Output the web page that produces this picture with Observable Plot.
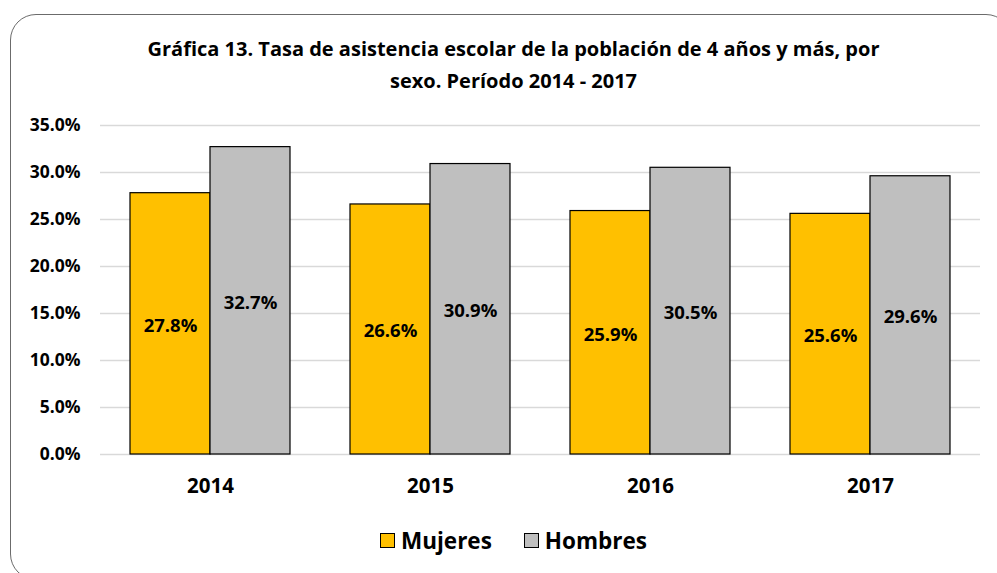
<!DOCTYPE html>
<html><head><meta charset="utf-8">
<script src="https://cdn.jsdelivr.net/npm/d3@7"></script>
<script src="https://cdn.jsdelivr.net/npm/@observablehq/plot@0.6"></script>
<style>
html,body{margin:0;padding:0;background:#fff;}
body{font-family:"Open Sans",sans-serif;color:#000;}
#wrap{position:relative;width:997px;height:573px;overflow:hidden;}
#frame{position:absolute;left:10px;top:14px;width:1002px;height:566px;border:1.5px solid #6b6b6b;border-radius:26px;box-sizing:border-box;pointer-events:none;}
#title{position:relative;height:105px;box-sizing:border-box;padding-top:33px;padding-left:30px;text-align:center;font-weight:700;font-size:20px;line-height:32px;}
#chart{position:relative;height:405px;}
#chart svg{display:block;font-family:"Open Sans",sans-serif;font-weight:700;}
#chart svg [aria-label^="x-axis"] text{font-size:20.5px;}
#chart svg [aria-label^="y-axis"] text{font-size:17.5px;}
#legend{position:relative;height:63px;display:flex;justify-content:center;align-items:center;gap:32px;font-weight:700;font-size:22.5px;padding-left:30px;box-sizing:border-box;padding-bottom:2px;}
.item{display:flex;align-items:center;gap:6px;}
.sw{width:13px;height:13px;border:1px solid #000;}
</style>
</head>
<body>
<div id="wrap">
  <div id="frame"></div>
  <div id="title">Gráfica 13. Tasa de asistencia escolar de la población de 4 años y más, por<br>sexo. Período 2014 - 2017</div>
  <div id="chart"></div>
  <div id="legend"></div>
</div>
<script>
const years = ["2014", "2015", "2016", "2017"];
const mujeres = [27.8, 26.6, 25.9, 25.6];
const hombres = [32.7, 30.9, 30.5, 29.6];
const seriesNames = ["Mujeres", "Hombres"];
const seriesColors = ["#FFC000", "#BFBFBF"];
const yTicks = [0, 5, 10, 15, 20, 25, 30, 35];

const rowsM = years.map((year, i) => ({year, sex: seriesNames[0], value: mujeres[i]}));
const rowsH = years.map((year, i) => ({year, sex: seriesNames[1], value: hombres[i]}));
const fmt = v => v.toFixed(1) + "%";

const plot = Plot.plot({
  width: 997,
  height: 405,
  marginLeft: 100,
  marginRight: 17,
  marginTop: 20,
  marginBottom: 56,
  x: {domain: years, padding: 0, tickSize: 0, tickPadding: 24, label: null},
  y: {domain: [0, 35], ticks: yTicks, tickFormat: fmt, tickSize: 0, tickPadding: 20, label: null},
  marks: [
    Plot.ruleY(yTicks, {stroke: "#D9D9D9", strokeWidth: 1.5}),
    Plot.barY(rowsM, {x: "year", y: "value", fill: seriesColors[0], stroke: "#000", strokeWidth: 1.2, insetLeft: 30, insetRight: 110}),
    Plot.barY(rowsH, {x: "year", y: "value", fill: seriesColors[1], stroke: "#000", strokeWidth: 1.2, insetLeft: 110, insetRight: 30}),
    Plot.text(rowsM, {x: "year", y: d => d.value / 2, text: d => fmt(d.value), dx: -40, dy: 2, fontSize: 18.5, fontWeight: 700, fill: "#000"}),
    Plot.text(rowsH, {x: "year", y: d => d.value / 2, text: d => fmt(d.value), dx: 40, dy: 2, fontSize: 18.5, fontWeight: 700, fill: "#000"})
  ]
});
document.getElementById("chart").appendChild(plot);

const legend = document.getElementById("legend");
seriesNames.forEach((name, i) => {
  const item = document.createElement("div");
  item.className = "item";
  const sw = document.createElement("div");
  sw.className = "sw";
  sw.style.background = seriesColors[i];
  const label = document.createElement("span");
  label.textContent = name;
  item.appendChild(sw);
  item.appendChild(label);
  legend.appendChild(item);
});
</script>
</body></html>
